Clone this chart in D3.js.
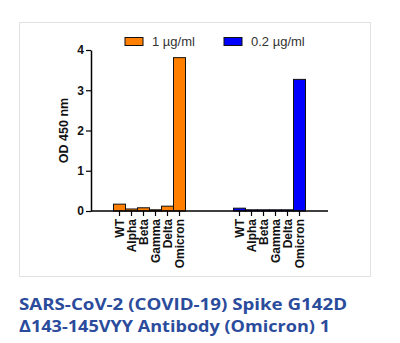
<!DOCTYPE html>
<html>
<head>
<meta charset="utf-8">
<script src="https://cdn.jsdelivr.net/npm/d3@7"></script>
<style>
  html, body { margin: 0; padding: 0; background: #fff; }
  svg { display: block; }
</style>
</head>
<body>
<svg id="chart" width="400" height="343"></svg>
<script>
// ---- data ----
const categories = ["WT", "Alpha", "Beta", "Gamma", "Delta", "Omicron"];
const seriesNames = ["1 \u00b5g/ml", "0.2 \u00b5g/ml"];
const values1 = [0.17, 0.05, 0.08, 0.03, 0.12, 3.81];
const values02 = [0.07, 0.03, 0.03, 0.03, 0.03, 3.27];
const yTicks = [0, 1, 2, 3, 4];
const seriesColors = ["#ff7f00", "#0000ff"];
const titleLines = ["SARS-CoV-2 (COVID-19) Spike G142D", "\u0394143-145VYY Antibody (Omicron) 1"];

const seriesValues = [values1, values02];

const svg = d3.select("#chart");

// frame around chart image
svg.append("rect")
  .attr("x", 19.5).attr("y", 22.5)
  .attr("width", 351).attr("height", 254)
  .attr("fill", "none").attr("stroke", "#e2e2e2").attr("stroke-width", 1);

const axisLeft = 91, axisRight = 328, yTop = 50, yBottom = 211;

const y = d3.scaleLinear().domain([0, 4]).range([yBottom, yTop]);
const xGroup = d3.scaleBand().domain(seriesNames).range([axisLeft, axisRight])
  .paddingInner(0.4).paddingOuter(0.1875);
const xCat = d3.scaleBand().domain(categories).range([0, xGroup.bandwidth()]).padding(0);

// bars
seriesNames.forEach((s, i) => {
  const g = svg.append("g").attr("transform", `translate(${xGroup(s)},0)`);
  g.selectAll("rect")
    .data(categories.map((c, j) => ({ c, v: seriesValues[i][j] })))
    .join("rect")
    .attr("x", d => xCat(d.c))
    .attr("y", d => y(d.v))
    .attr("width", xCat.bandwidth())
    .attr("height", d => y(0) - y(d.v))
    .attr("fill", seriesColors[i])
    .attr("stroke", "#111")
    .attr("stroke-width", 1);

  // category axis for the group
  const ax = g.append("g").attr("transform", `translate(0,${yBottom})`)
    .call(d3.axisBottom(xCat).tickSize(5).tickSizeOuter(0));
  ax.select(".domain").remove();
  ax.selectAll(".tick line").attr("stroke", "#000").attr("stroke-width", 1.2);
  ax.selectAll(".tick text")
    .attr("transform", "rotate(-90)")
    .attr("text-anchor", "end")
    .attr("x", -8)
    .attr("y", 0)
    .attr("dy", "0.36em")
    .attr("fill", "#111")
    .style("font-family", "Liberation Sans, Arial, sans-serif")
    .style("font-weight", "bold")
    .style("font-size", "12px");
});

// x axis baseline
svg.append("line")
  .attr("x1", axisLeft).attr("x2", axisRight)
  .attr("y1", yBottom).attr("y2", yBottom)
  .attr("stroke", "#000").attr("stroke-width", 1.5);

// y axis
const yAx = svg.append("g").attr("transform", `translate(${axisLeft},0)`)
  .call(d3.axisLeft(y).tickValues(yTicks).tickSize(5).tickSizeOuter(0).tickFormat(d3.format("d")));
yAx.select(".domain").attr("stroke", "#000").attr("stroke-width", 1.5);
yAx.selectAll(".tick line").attr("stroke", "#000").attr("stroke-width", 1.2);
yAx.selectAll(".tick text")
  .attr("x", -7)
  .attr("fill", "#111")
  .style("font-family", "Liberation Sans, Arial, sans-serif")
  .style("font-weight", "bold")
  .style("font-size", "12px");

// y label
svg.append("text")
  .attr("transform", `translate(68,${y(2)}) rotate(-90)`)
  .attr("text-anchor", "middle")
  .attr("fill", "#111")
  .style("font-family", "Liberation Sans, Arial, sans-serif")
  .style("font-weight", "bold")
  .style("font-size", "12.5px")
  .text("OD 450 nm");

// legend
const legendX = [125, 224];
seriesNames.forEach((s, i) => {
  svg.append("rect")
    .attr("x", legendX[i]).attr("y", 37.5)
    .attr("width", 18).attr("height", 8)
    .attr("fill", seriesColors[i]).attr("stroke", "#111").attr("stroke-width", 1);
  svg.append("text")
    .attr("x", legendX[i] + 27).attr("y", 46)
    .attr("fill", "#333")
    .style("font-family", "Liberation Sans, Arial, sans-serif")
    .style("font-size", "13px")
    .text(s);
});

// title
const titleWidths = [328, 311];
titleLines.forEach((t, i) => {
  svg.append("text")
    .attr("x", 19).attr("y", 310 + i * 22)
    .attr("fill", "#2b4c9c")
    .attr("textLength", titleWidths[i])
    .attr("lengthAdjust", "spacingAndGlyphs")
    .style("font-family", "Open Sans, sans-serif")
    .style("font-weight", "bold")
    .style("font-size", "16px")
    .text(t);
});
</script>
</body>
</html>
